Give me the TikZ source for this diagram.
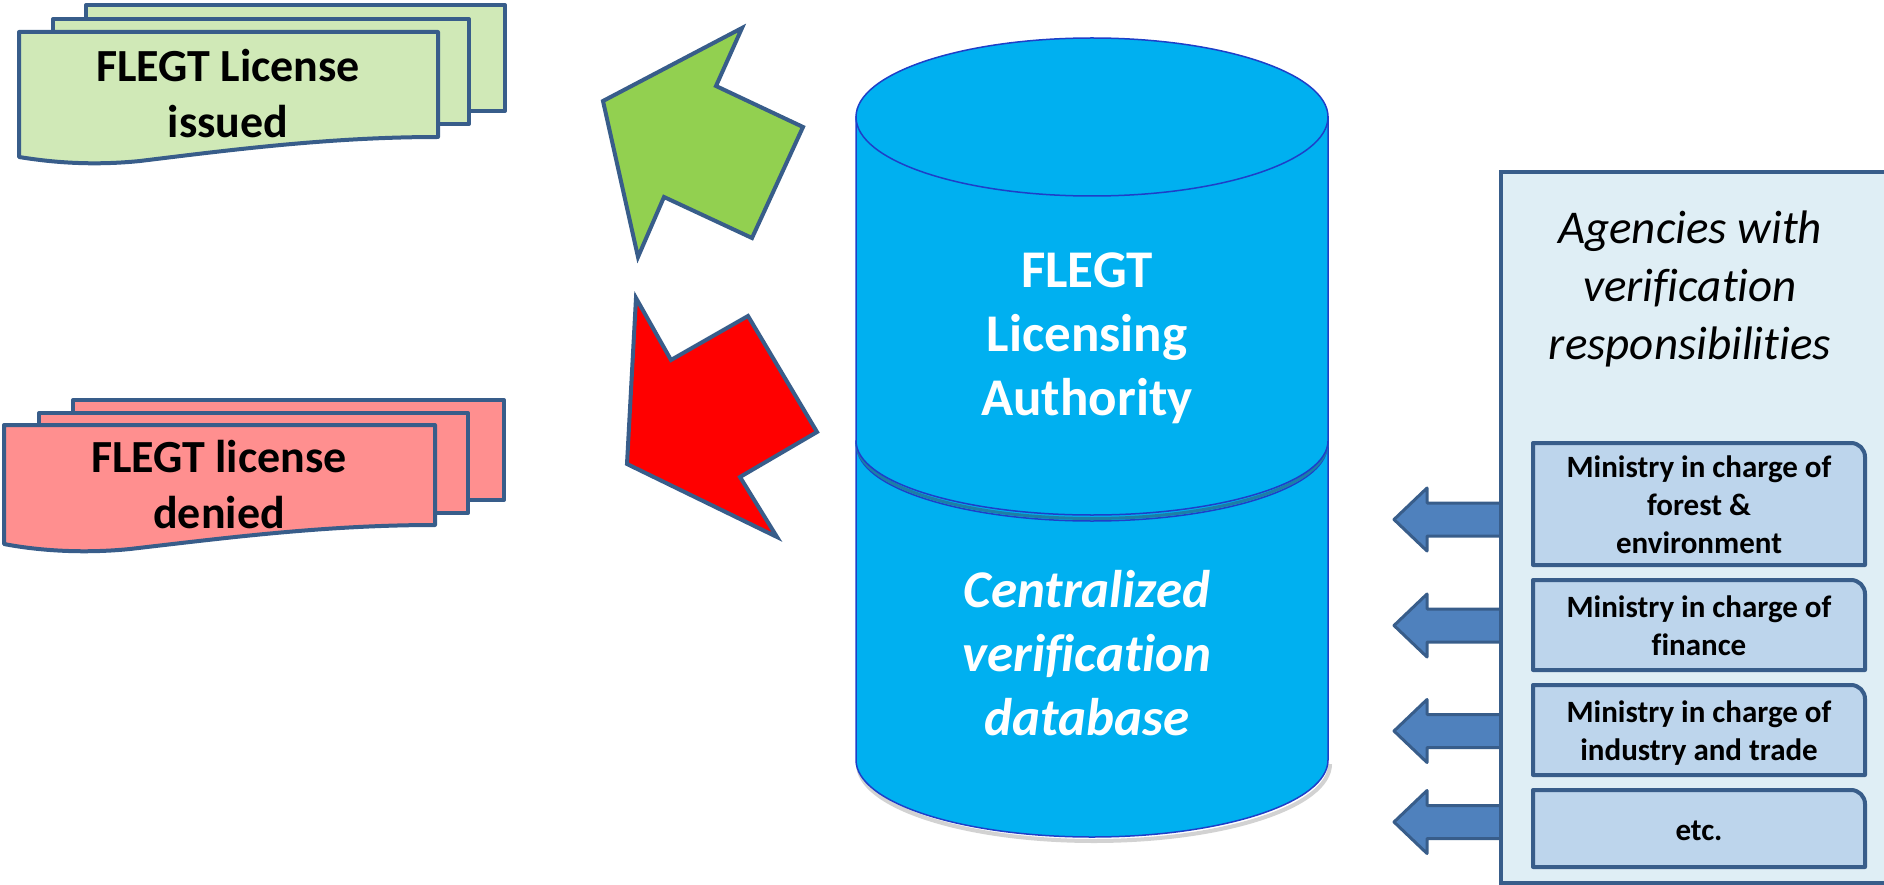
\documentclass[tikz,border=0pt]{standalone}
\usepackage{fontspec}
\setmainfont{Carlito}[Ligatures=NoCommon]

\definecolor{outline}{HTML}{385D8A}
\definecolor{greendoc}{HTML}{D0E9B7}
\definecolor{reddoc}{HTML}{FF8F8F}
\definecolor{greenarrow}{HTML}{92D050}
\definecolor{redarrow}{HTML}{FF0000}
\definecolor{cylfill}{HTML}{00B0F0}
\definecolor{cyledge}{HTML}{1E3FC8}
\definecolor{cylrim}{HTML}{1C7FA6}
\definecolor{panelfill}{HTML}{DFEEF5}
\definecolor{mboxfill}{HTML}{BDD5EC}
\definecolor{blockfill}{HTML}{4F81BD}

\tikzset{
  docshape/.style={draw=outline, line width=4pt, line join=round},
  doctext/.style={font=\bfseries\fontsize{46}{56}\selectfont, align=center,
    anchor=base, inner sep=0pt},
  bigarrow/.style={draw=outline, line width=4pt, line join=miter},
  cylshape/.style={draw=cyledge, line width=1.5pt, fill=cylfill},
  cyltext/.style={text=white, font=\bfseries\fontsize{53}{64}\selectfont,
    align=center, anchor=base, inner sep=0pt},
  panelbox/.style={draw=outline, line width=4pt, fill=panelfill},
  mbox/.style={draw=outline, line width=4pt, fill=mboxfill, line join=round},
  mtext/.style={font=\bfseries\fontsize{31}{38}\selectfont, align=center,
    anchor=base, inner sep=0pt},
  blockarrow/.style={draw=outline, line width=3pt, fill=blockfill, line join=round},
}

\begin{document}
\begin{tikzpicture}[x=1pt, y=-1pt]
\useasboundingbox (0,0) rectangle (1884,885);

% ---------- issued licences (stack of documents) ----------
\draw[docshape, fill=greendoc] (86,5) rectangle (505,111);
\draw[docshape, fill=greendoc] (53,19) rectangle (469,124);
\draw[docshape, fill=greendoc] (19,32) -- (438,32) -- (438,137)
  .. controls (330,137) and (230,150) .. (140,161)
  .. controls (90,166) and (50,162) .. (19,157) -- cycle;
% node anchors sit on the baseline of the last line
\node[doctext] (issued) at (228,138) {FLEGT License\\issued};

% ---------- denied licences (stack of documents) ----------
\draw[docshape, fill=reddoc] (73,400) rectangle (504,500);
\draw[docshape, fill=reddoc] (39,413) rectangle (468,513);
\draw[docshape, fill=reddoc] (4,425) -- (435,425) -- (435,525)
  .. controls (325,525) and (225,538) .. (130,549)
  .. controls (80,554) and (35,550) .. (4,544) -- cycle;
\node[doctext] (denied) at (219,528) {FLEGT license\\denied};

% ---------- green and red bent arrows ----------
\draw[bigarrow, fill=greenarrow] (742,28) -- (716,86) -- (803,127) -- (752,238)
  -- (664,197) -- (638,257) -- (603,101) -- cycle;
\draw[bigarrow, fill=redarrow] (636,298) -- (671,360) -- (748,316) -- (817,432)
  -- (740,477) -- (777,537) -- (627,464) -- cycle;

% ---------- database cylinder (lower part) ----------
\draw[gray!35, line width=4pt] (858,764) arc[start angle=180, end angle=0, x radius=236, y radius=77];
\draw[cylshape] (856,441) -- (856,760)
  arc[start angle=180, end angle=0, x radius=236, y radius=77] -- (1328,441) -- cycle;

% ---------- licensing authority cylinder (upper part) ----------
\draw[cyledge, line width=1.5pt] (857,446) arc[start angle=180, end angle=0, x radius=235, y radius=75];
\draw[cylrim, line width=3pt] (857,443.5) arc[start angle=180, end angle=0, x radius=235, y radius=75];
\draw[cylshape] (856,117) -- (856,441)
  arc[start angle=180, end angle=0, x radius=236, y radius=74] -- (1328,117) -- cycle;
\draw[cylshape] (1092,117) ellipse[x radius=236, y radius=79];

\node[cyltext] (authority) at (1087,415) {FLEGT\\Licensing\\Authority};
\node[cyltext, font=\bfseries\itshape\fontsize{53}{64}\selectfont] (database) at (1087,735)
  {Centralized\\verification\\database};

% ---------- block arrows leaving the agencies panel ----------
\foreach \cy in {519.5, 625.5, 731, 822} {
  \draw[blockarrow] (1503,\cy-16.5) -- (1427,\cy-16.5) -- (1427,\cy-31.5)
    -- (1394,\cy) -- (1427,\cy+31.5) -- (1427,\cy+16.5) -- (1503,\cy+16.5) -- cycle;
}

% ---------- agencies panel ----------
\draw[panelbox] (1501,172) rectangle (1900,883);
\node[font=\itshape\fontsize{47}{58}\selectfont, align=center, anchor=base, inner sep=0pt]
  (agencies) at (1690,359) {Agencies with\\verification\\responsibilities};

% ministries (only the top-right corner is rounded)
\foreach \top/\bot in {443/565, 580/670, 685/775, 790/867} {
  \draw[mbox] (1533,\bot) -- (1533,\top) -- (1851,\top)
    arc[start angle=270, end angle=360, radius=14] -- (1865,\bot) -- cycle;
}
\node[mtext] (forest) at (1699,553) {Ministry in charge of\\forest \&\\environment};
\node[mtext] (finance) at (1699,655) {Ministry in charge of\\finance};
\node[mtext] (industry) at (1699,760) {Ministry in charge of\\industry and trade};
\node[mtext] (etc) at (1699,840) {etc.};
\end{tikzpicture}
\end{document}
